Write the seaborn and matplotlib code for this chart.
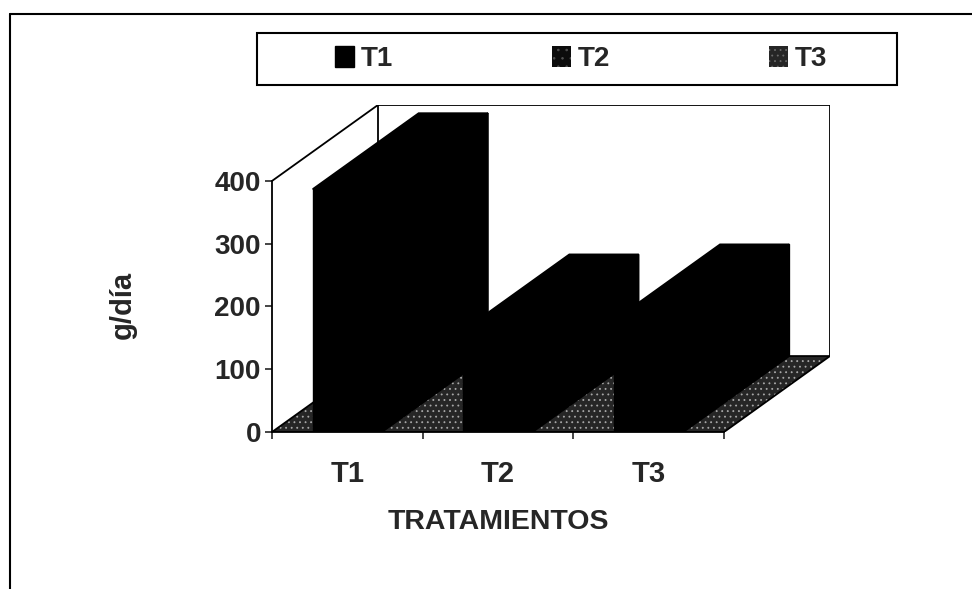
import numpy as np
import pandas as pd
import matplotlib
matplotlib.use("Agg")
import matplotlib.pyplot as plt
from matplotlib.patches import Polygon, Rectangle, Patch
from matplotlib.lines import Line2D
import seaborn as sns

# ---- data ----
tratamientos = ["T1", "T2", "T3"]
valores = [387, 162, 178]
y_ticks = [0, 100, 200, 300, 400]
colores_barras = ["#000000", "#000000", "#000000"]
colores_leyenda = ["#000000", "#0c0c0c", "#262626"]

sns.set_style("white")
plt.rcParams["font.family"] = ["Liberation Sans", "DejaVu Sans"]
plt.rcParams["font.weight"] = "bold"
plt.rcParams["hatch.linewidth"] = 0.6

W, H = 972, 589
fig = plt.figure(figsize=(W / 100, H / 100), dpi=100)

# geometry of oblique 3D look (in data units)
DX = 0.703   # depth offset in category units
DY = 121.0   # depth offset in value units
YMAX = 400

ax = fig.add_axes([272 / W, (H - 432) / H, 558 / W, 327 / H])
ax.set_facecolor("none")

df = pd.DataFrame({"trat": tratamientos, "val": valores})
sns.barplot(data=df, x="trat", y="val", hue="trat", palette=colores_barras,
            width=0.46, saturation=1, legend=False, ax=ax, linewidth=0)

ax.set_xlim(-0.5, 2.5 + DX)
ax.set_ylim(0, YMAX + DY)

lw = 1.3
n = len(tratamientos)
x0, x1 = -0.5, n - 0.5

# back wall and left wall outlines
ax.plot([x0 + DX, x0 + DX, x1 + DX, x1 + DX], [DY, YMAX + DY, YMAX + DY, DY],
        color="black", lw=lw, zorder=1)
ax.plot([x0, x0 + DX], [YMAX, YMAX + DY], color="black", lw=lw, zorder=1)

# floor
floor = Polygon([(x0, 0), (x1, 0), (x1 + DX, DY), (x0 + DX, DY)], closed=True,
                facecolor="#262626", edgecolor="#a8a8a8", hatch="...", lw=0, zorder=1.5)
ax.add_patch(floor)
ax.add_patch(Polygon([(x0, 0), (x1, 0), (x1 + DX, DY), (x0 + DX, DY)], closed=True,
                     fill=False, edgecolor="black", lw=lw, zorder=1.6))

# 3D faces derived from bar patches
bars = list(ax.patches[:n])
for p in sorted(bars, key=lambda r: -r.get_x()):
    bx, bw, bh = p.get_x(), p.get_width(), p.get_height()
    col = p.get_facecolor()
    top = Polygon([(bx, bh), (bx + bw, bh), (bx + bw + DX, bh + DY), (bx + DX, bh + DY)],
                  closed=True, facecolor=col, edgecolor=col, lw=1.2, zorder=2.9,
                  joinstyle="miter")
    side = Polygon([(bx + bw, 0), (bx + bw + DX, DY), (bx + bw + DX, bh + DY), (bx + bw, bh)],
                   closed=True, facecolor=col, edgecolor=col, lw=1.2, zorder=2.9,
                   joinstyle="miter")
    ax.add_patch(side)
    ax.add_patch(top)
    p.set_edgecolor(col)
    p.set_linewidth(1.0)
    p.set_zorder(3)

# axes styling
for s in ["top", "right"]:
    ax.spines[s].set_visible(False)
ax.spines["left"].set_bounds(0, YMAX)
ax.spines["bottom"].set_bounds(x0, x1)
for s in ["left", "bottom"]:
    ax.spines[s].set_linewidth(lw)
    ax.spines[s].set_color("black")
    ax.spines[s].set_zorder(4)

ax.set_yticks(y_ticks)
ax.set_yticklabels([str(v) for v in y_ticks], fontsize=20, fontweight="bold")
ax.tick_params(axis="y", direction="out", length=5, width=1.2, pad=3, left=True)

ax.set_xticks(np.arange(-0.5, n, 1.0))
ax.set_xticklabels([""] * (n + 1))
ax.set_xticks(np.arange(n), minor=True)
ax.set_xticklabels(tratamientos, minor=True, fontsize=21, fontweight="bold")
ax.tick_params(axis="x", which="major", direction="out", length=5, width=1.2, bottom=True)
ax.tick_params(axis="x", which="minor", length=0, pad=20)
ax.set_xlabel("")
ax.set_ylabel("")
ax.grid(False)

# labels
fig.text(498 / W, 1 - 522 / H, "TRATAMIENTOS", ha="center", va="center",
         fontsize=20.5, fontweight="bold")
fig.text(123 / W, 1 - 305 / H, "g/día", ha="center", va="center", rotation=90,
         fontsize=21, fontweight="bold")

# legend box
fig.add_artist(Rectangle((257 / W, 1 - 85 / H), 640 / W, 52 / H, transform=fig.transFigure,
                         fill=False, edgecolor="black", lw=1.5))
handles = [Patch(facecolor=colores_leyenda[0], edgecolor=colores_leyenda[0]),
           Patch(facecolor=colores_leyenda[1], edgecolor="#505050", hatch="..", lw=0),
           Patch(facecolor=colores_leyenda[2], edgecolor="#6a6a6a", hatch="...", lw=0)]
fig.legend(handles, tratamientos, ncol=3, loc="center",
           bbox_to_anchor=(581 / W, 1 - 59 / H), bbox_transform=fig.transFigure,
           frameon=False, handlelength=0.7, handleheight=0.8, handletextpad=0.25,
           columnspacing=5.7, prop={"size": 20, "weight": "bold"})

# outer frame (top and left)
fig.add_artist(Line2D([10 / W, 1.0], [1 - 14 / H, 1 - 14 / H], transform=fig.transFigure,
                      color="black", lw=1.5))
fig.add_artist(Line2D([10 / W, 10 / W], [0, 1 - 14 / H], transform=fig.transFigure,
                      color="black", lw=1.5))

fig.savefig("out.png", dpi=100, facecolor="white")
